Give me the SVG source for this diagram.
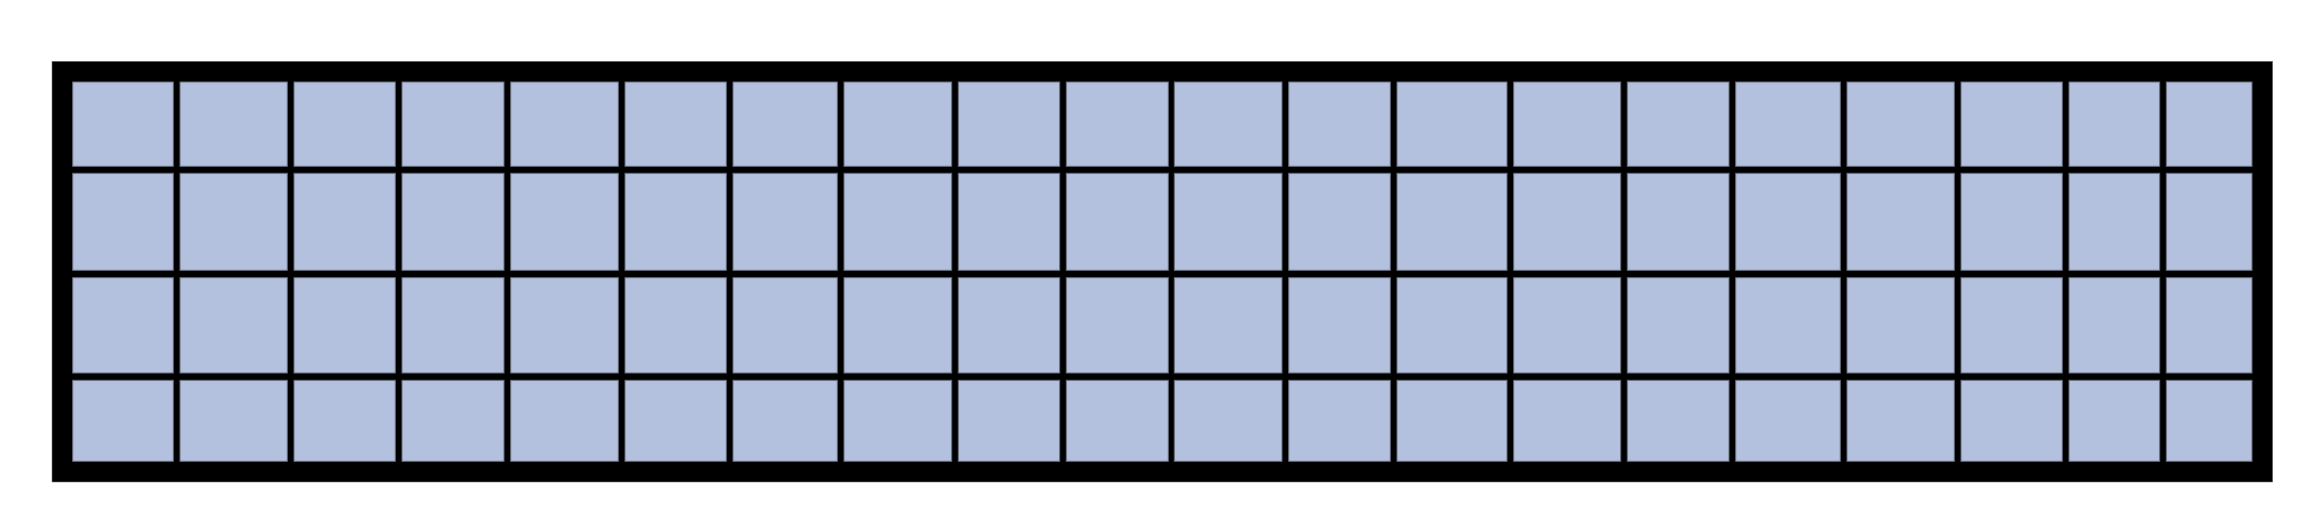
<svg xmlns="http://www.w3.org/2000/svg" width="2320" height="531" viewBox="0 0 2320 531">
<style>
.frame{fill:#000000;stroke:#777777;stroke-width:0.6}
.cell{fill:#b3c1de;stroke:#666c7a;stroke-width:1}
</style>
<rect width="2320" height="531" fill="#ffffff"/>
<rect id="frame" class="frame" x="52" y="61.3" width="2220.7" height="420.7"/>
<g id="row1">
<rect class="cell" x="72.7" y="82" width="100.6" height="84.3"/>
<rect class="cell" x="180" y="82" width="107.3" height="84.3"/>
<rect class="cell" x="294" y="82" width="101.3" height="84.3"/>
<rect class="cell" x="402" y="82" width="102" height="84.3"/>
<rect class="cell" x="510.7" y="82" width="107.6" height="84.3"/>
<rect class="cell" x="625" y="82" width="101.3" height="84.3"/>
<rect class="cell" x="733" y="82" width="104.3" height="84.3"/>
<rect class="cell" x="844" y="82" width="107.7" height="84.3"/>
<rect class="cell" x="958.3" y="82" width="101.4" height="84.3"/>
<rect class="cell" x="1066.3" y="82" width="102" height="84.3"/>
<rect class="cell" x="1174.3" y="82" width="107.7" height="84.3"/>
<rect class="cell" x="1288.7" y="82" width="101.6" height="84.3"/>
<rect class="cell" x="1397" y="82" width="110" height="84.3"/>
<rect class="cell" x="1513.7" y="82" width="107" height="84.3"/>
<rect class="cell" x="1627.3" y="82" width="101.7" height="84.3"/>
<rect class="cell" x="1735.7" y="82" width="104.6" height="84.3"/>
<rect class="cell" x="1847" y="82" width="107.3" height="84.3"/>
<rect class="cell" x="1961" y="82" width="101.3" height="84.3"/>
<rect class="cell" x="2069" y="82" width="90.7" height="84.3"/>
<rect class="cell" x="2166.3" y="82" width="85.7" height="84.3"/>
</g>
<g id="row2">
<rect class="cell" x="72.7" y="173.3" width="100.6" height="97"/>
<rect class="cell" x="180" y="173.3" width="107.3" height="97"/>
<rect class="cell" x="294" y="173.3" width="101.3" height="97"/>
<rect class="cell" x="402" y="173.3" width="102" height="97"/>
<rect class="cell" x="510.7" y="173.3" width="107.6" height="97"/>
<rect class="cell" x="625" y="173.3" width="101.3" height="97"/>
<rect class="cell" x="733" y="173.3" width="104.3" height="97"/>
<rect class="cell" x="844" y="173.3" width="107.7" height="97"/>
<rect class="cell" x="958.3" y="173.3" width="101.4" height="97"/>
<rect class="cell" x="1066.3" y="173.3" width="102" height="97"/>
<rect class="cell" x="1174.3" y="173.3" width="107.7" height="97"/>
<rect class="cell" x="1288.7" y="173.3" width="101.6" height="97"/>
<rect class="cell" x="1397" y="173.3" width="110" height="97"/>
<rect class="cell" x="1513.7" y="173.3" width="107" height="97"/>
<rect class="cell" x="1627.3" y="173.3" width="101.7" height="97"/>
<rect class="cell" x="1735.7" y="173.3" width="104.6" height="97"/>
<rect class="cell" x="1847" y="173.3" width="107.3" height="97"/>
<rect class="cell" x="1961" y="173.3" width="101.3" height="97"/>
<rect class="cell" x="2069" y="173.3" width="90.7" height="97"/>
<rect class="cell" x="2166.3" y="173.3" width="85.7" height="97"/>
</g>
<g id="row3">
<rect class="cell" x="72.7" y="277.7" width="100.6" height="95.3"/>
<rect class="cell" x="180" y="277.7" width="107.3" height="95.3"/>
<rect class="cell" x="294" y="277.7" width="101.3" height="95.3"/>
<rect class="cell" x="402" y="277.7" width="102" height="95.3"/>
<rect class="cell" x="510.7" y="277.7" width="107.6" height="95.3"/>
<rect class="cell" x="625" y="277.7" width="101.3" height="95.3"/>
<rect class="cell" x="733" y="277.7" width="104.3" height="95.3"/>
<rect class="cell" x="844" y="277.7" width="107.7" height="95.3"/>
<rect class="cell" x="958.3" y="277.7" width="101.4" height="95.3"/>
<rect class="cell" x="1066.3" y="277.7" width="102" height="95.3"/>
<rect class="cell" x="1174.3" y="277.7" width="107.7" height="95.3"/>
<rect class="cell" x="1288.7" y="277.7" width="101.6" height="95.3"/>
<rect class="cell" x="1397" y="277.7" width="110" height="95.3"/>
<rect class="cell" x="1513.7" y="277.7" width="107" height="95.3"/>
<rect class="cell" x="1627.3" y="277.7" width="101.7" height="95.3"/>
<rect class="cell" x="1735.7" y="277.7" width="104.6" height="95.3"/>
<rect class="cell" x="1847" y="277.7" width="107.3" height="95.3"/>
<rect class="cell" x="1961" y="277.7" width="101.3" height="95.3"/>
<rect class="cell" x="2069" y="277.7" width="90.7" height="95.3"/>
<rect class="cell" x="2166.3" y="277.7" width="85.7" height="95.3"/>
</g>
<g id="row4">
<rect class="cell" x="72.7" y="380.3" width="100.6" height="81"/>
<rect class="cell" x="180" y="380.3" width="107.3" height="81"/>
<rect class="cell" x="294" y="380.3" width="101.3" height="81"/>
<rect class="cell" x="402" y="380.3" width="102" height="81"/>
<rect class="cell" x="510.7" y="380.3" width="107.6" height="81"/>
<rect class="cell" x="625" y="380.3" width="101.3" height="81"/>
<rect class="cell" x="733" y="380.3" width="104.3" height="81"/>
<rect class="cell" x="844" y="380.3" width="107.7" height="81"/>
<rect class="cell" x="958.3" y="380.3" width="101.4" height="81"/>
<rect class="cell" x="1066.3" y="380.3" width="102" height="81"/>
<rect class="cell" x="1174.3" y="380.3" width="107.7" height="81"/>
<rect class="cell" x="1288.7" y="380.3" width="101.6" height="81"/>
<rect class="cell" x="1397" y="380.3" width="110" height="81"/>
<rect class="cell" x="1513.7" y="380.3" width="107" height="81"/>
<rect class="cell" x="1627.3" y="380.3" width="101.7" height="81"/>
<rect class="cell" x="1735.7" y="380.3" width="104.6" height="81"/>
<rect class="cell" x="1847" y="380.3" width="107.3" height="81"/>
<rect class="cell" x="1961" y="380.3" width="101.3" height="81"/>
<rect class="cell" x="2069" y="380.3" width="90.7" height="81"/>
<rect class="cell" x="2166.3" y="380.3" width="85.7" height="81"/>
</g>
</svg>
